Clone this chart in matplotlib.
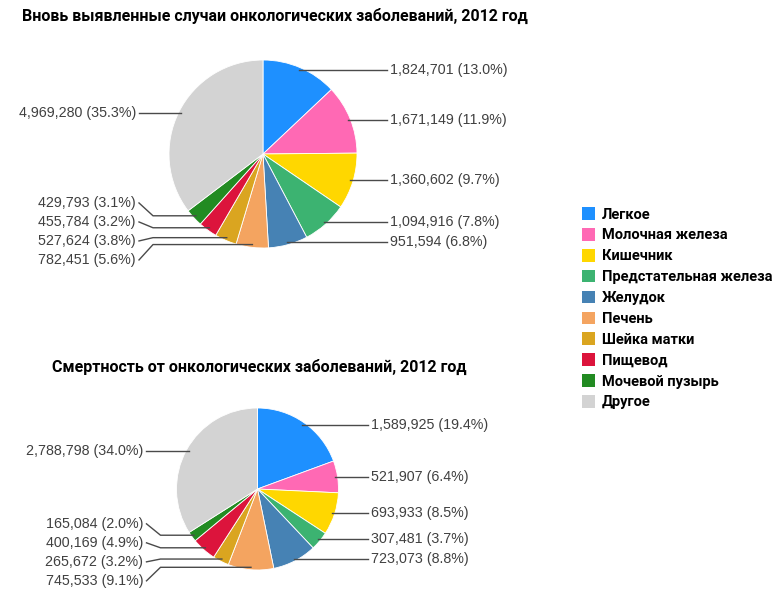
import numpy as np
import matplotlib.pyplot as plt
from matplotlib.patches import Patch

categories = ['Легкое', 'Молочная железа', 'Кишечник', 'Предстательная железа',
              'Желудок', 'Печень', 'Шейка матки', 'Пищевод', 'Мочевой пузырь', 'Другое']
colors = ['#1e90ff', '#ff69b4', '#ffd700', '#3cb371', '#4682b4',
          '#f4a460', '#daa520', '#dc143c', '#228b22', '#d3d3d3']

# заболеваемость и смертность, 2012
new_cases = [1824701, 1671149, 1360602, 1094916, 951594,
             782451, 527624, 455784, 429793, 4969280]
deaths = [1589925, 521907, 693933, 307481, 723073,
          745533, 265672, 400169, 165084, 2788798]

titles = ['Вновь выявленные случаи онкологических заболеваний, 2012 год',
          'Смертность от онкологических заболеваний, 2012 год']

W, H = 778, 591
fig = plt.figure(figsize=(W / 100, H / 100), dpi=100)
ax = fig.add_axes([0, 0, 1, 1])

title_font = dict(family=['Roboto', 'DejaVu Sans'], fontweight='bold', fontsize=11.5)
label_font = dict(family=['Liberation Sans', 'DejaVu Sans'], fontsize=10.3, color='#404040')


def spread(ys, gap):
    # раздвигаем подписи, чтобы они не налезали друг на друга
    order = sorted(range(len(ys)), key=lambda i: ys[i])
    groups = [[i] for i in order]

    def pos(g):
        start = np.mean([ys[i] for i in g]) - gap * (len(g) - 1) / 2
        return [start + gap * k for k in range(len(g))]

    merged = True
    while merged:
        merged = False
        for k in range(len(groups) - 1):
            if pos(groups[k])[-1] + gap > pos(groups[k + 1])[0] + 1e-9:
                groups[k] = groups[k] + groups[k + 1]
                del groups[k + 1]
                merged = True
                break
    out = [0.0] * len(ys)
    for g in groups:
        for i, y in zip(g, pos(g)):
            out[i] = y
    return out


def draw_pie(values, cx, cy, r):
    cy = H - cy
    wedges, _ = ax.pie(values, colors=colors, startangle=90, counterclock=False,
                       center=(cx, cy), radius=r, frame=True,
                       wedgeprops=dict(edgecolor='white', linewidth=0.6))
    total = sum(values)
    items = {'left': [], 'right': []}
    for w, v in zip(wedges, values):
        mid = np.deg2rad((w.theta1 + w.theta2) / 2)
        axp = cx + 0.97 * r * np.cos(mid)
        ayp = cy + 0.97 * r * np.sin(mid)
        side = 'right' if np.cos(mid) > 0 else 'left'
        items[side].append((axp, ayp, f'{v:,} ({v / total * 100:.1f}%)'))
    for side, lst in items.items():
        ys = spread([it[1] for it in lst], 19)
        sgn = 1 if side == 'right' else -1
        xt = cx + sgn * (r + 33)
        for (axp, ayp, txt), ly in zip(lst, ys):
            if abs(ly - ayp) < 0.5:
                xs, yl = [axp, xt - sgn * 3], [ayp, ayp]
            else:
                xs = [axp, xt - sgn * 17, xt - sgn * 3]
                yl = [ayp, ayp, ly]
            ax.plot(xs, yl, color='#4a4a4a', lw=1.0)
            ax.text(xt, ly, txt, ha='left' if side == 'right' else 'right',
                    va='center', **label_font)


draw_pie(new_cases, 263, 154, 94)
draw_pie(deaths, 257.5, 489, 81)

ax.set_xlim(0, W)
ax.set_ylim(0, H)
ax.set_aspect('equal')
ax.axis('off')

fig.text(22 / W, 1 - 16 / H, titles[0], ha='left', va='center', **title_font)
fig.text(52 / W, 1 - 367 / H, titles[1], ha='left', va='center', **title_font)

handles = [Patch(facecolor=c, edgecolor='none') for c in colors]
fig.legend(handles, categories, loc='upper left', bbox_to_anchor=(575 / W, 1 - 200 / H),
           frameon=False, handlelength=0.9, handleheight=0.95, handletextpad=0.45,
           labelspacing=0.45, borderpad=0,
           prop=dict(family=['Roboto', 'DejaVu Sans'], weight='bold', size=10.5))

fig.savefig('out.png', dpi=100)
